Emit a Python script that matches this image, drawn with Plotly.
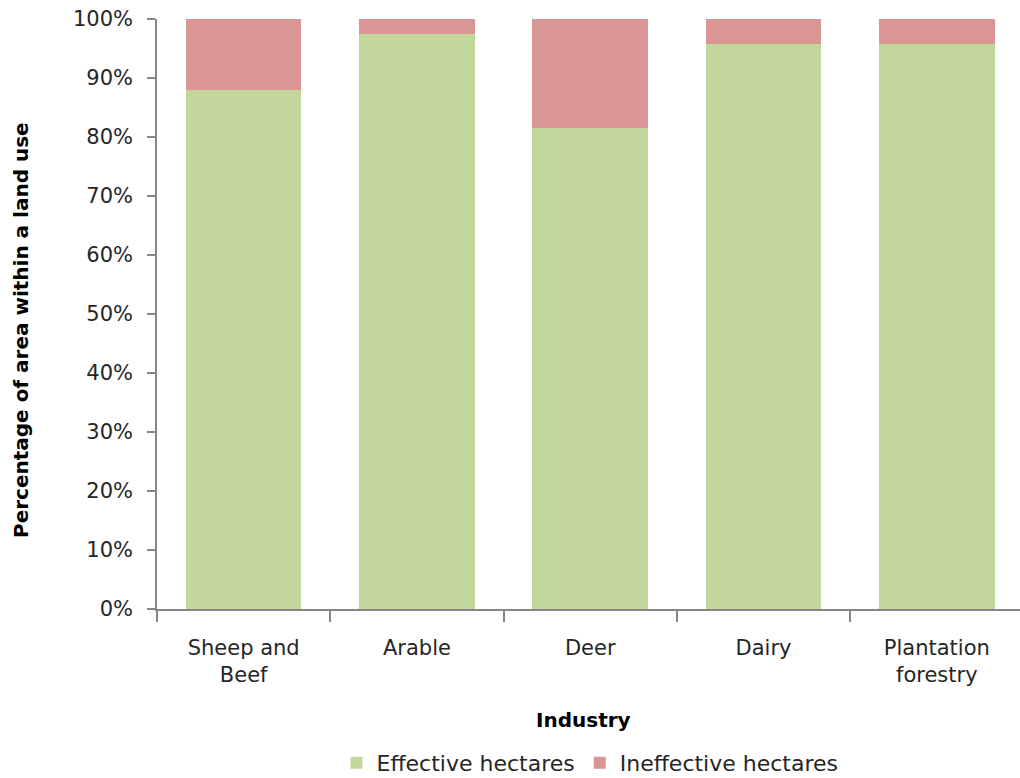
import plotly.graph_objects as go

# Share of each land use's area that is effective vs ineffective (%)
industries = ["Sheep and<br>Beef", "Arable", "Deer", "Dairy", "Plantation<br>forestry"]
effective = [87.9, 97.5, 81.5, 95.7, 95.7]
ineffective = [12.1, 2.5, 18.5, 4.3, 4.3]
y_ticks = [0, 10, 20, 30, 40, 50, 60, 70, 80, 90, 100]
y_tick_labels = ["0%", "10%", "20%", "30%", "40%", "50%", "60%", "70%", "80%", "90%", "100%"]

FONT = "DejaVu Sans"
TEXT = "#262626"
AXIS = "#868686"

W, H = 1020, 778
L, R, T, B = 157, 0, 19, 169
plot_w = W - L - R
plot_h = H - T - B


def px_x(x):
    return (x - L) / plot_w


def px_y(y):
    return (H - B - y) / plot_h


fig = go.Figure()
fig.add_trace(go.Bar(
    name="Effective hectares", x=industries, y=effective,
    marker=dict(color="#C3D69B", line=dict(width=0)),
))
fig.add_trace(go.Bar(
    name="Ineffective hectares", x=industries, y=ineffective,
    marker=dict(color="#D99694", line=dict(width=0)),
))

fig.update_layout(
    width=W, height=H,
    margin=dict(l=L, r=R, t=T, b=B, pad=0, autoexpand=False),
    barmode="stack",
    bargap=0.333,
    plot_bgcolor="white",
    paper_bgcolor="white",
    font=dict(family=FONT, size=21, color=TEXT),
    showlegend=True,
    legend=dict(
        orientation="h", xanchor="center", x=px_x(590),
        yanchor="middle", y=px_y(763),
        traceorder="normal",
        font=dict(family=FONT, size=22, color=TEXT),
        itemwidth=30, tracegroupgap=0,
    ),
    xaxis=dict(
        type="category",
        range=[-0.5, 4.48],
        tickson="boundaries", ticks="outside", ticklen=11, tickcolor=AXIS, tickwidth=1.5,
        showline=True, linecolor=AXIS, linewidth=1.5,
        showgrid=False, zeroline=False,
        tickfont=dict(family=FONT, size=21, color=TEXT),
        ticklabelstandoff=19,
        automargin=False,
    ),
    yaxis=dict(
        range=[0, 100], tickmode="array", tickvals=y_ticks, ticktext=y_tick_labels,
        ticks="outside", ticklen=8, tickcolor=AXIS, tickwidth=1.5,
        showline=True, linecolor=AXIS, linewidth=1.5,
        showgrid=False, zeroline=False,
        tickfont=dict(family=FONT, size=21, color=TEXT),
        ticklabelstandoff=10,
        automargin=False,
    ),
    annotations=[
        dict(
            text="<b>Percentage of area within a land use</b>",
            xref="paper", yref="paper", x=px_x(21), y=px_y(330),
            xanchor="center", yanchor="middle", textangle=-90, showarrow=False,
            font=dict(family=FONT, size=20, color="black"),
        ),
        dict(
            text="<b>Industry</b>",
            xref="paper", yref="paper", x=px_x(583.5), y=px_y(720),
            xanchor="center", yanchor="middle", showarrow=False,
            font=dict(family=FONT, size=20, color="black"),
        ),
    ],
)

fig.write_html("out.html")
